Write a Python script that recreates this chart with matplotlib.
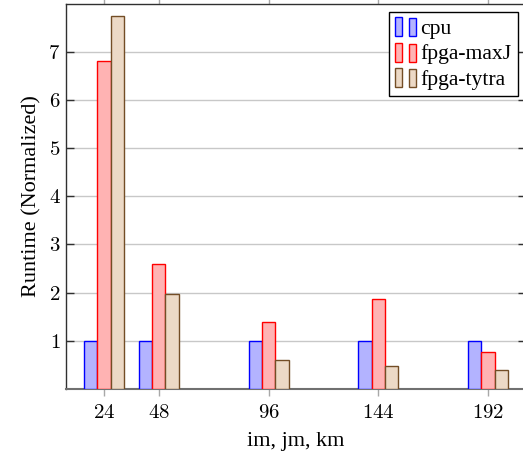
import matplotlib
matplotlib.use("Agg")
import matplotlib.pyplot as plt
from matplotlib.patches import Rectangle
from matplotlib.legend_handler import HandlerBase
from matplotlib.ticker import FuncFormatter
import numpy as np

plt.rcParams['font.family'] = ['Liberation Serif', 'DejaVu Serif']
plt.rcParams['mathtext.fontset'] = 'cm'

sizes = [24, 48, 96, 144, 192]
series_names = ["cpu", "fpga-maxJ", "fpga-tytra"]
cpu = [1.0, 1.0, 1.0, 1.0, 1.0]
fpga_maxj = [6.81, 2.60, 1.40, 1.87, 0.76]
fpga_tytra = [7.74, 1.98, 0.60, 0.47, 0.39]
yticks = [1, 2, 3, 4, 5, 6, 7]
xlabel = "im, jm, km"
ylabel = "Runtime (Normalized)"

faces = ["#b3b3ff", "#ffb3b3", "#ecd9c6"]
edges = ["#0000ff", "#ff0000", "#734d26"]

W, H = 523, 455
fig = plt.figure(figsize=(W/100, H/100), dpi=100)
ax = fig.add_axes([66/W, (H-389)/H, 460/W, 385/H])

bw = 5.83
data = [cpu, fpga_maxj, fpga_tytra]
x = np.array(sizes, dtype=float)
for i, (vals, fc, ec, name) in enumerate(zip(data, faces, edges, series_names)):
    ax.bar(x + (i-1)*bw, vals, width=bw, facecolor=fc, edgecolor=ec,
           linewidth=1.0, label=name, zorder=3)

ax.set_xlim(7.4, 208.6)
ax.set_ylim(0, 7.99)
ax.set_xticks(sizes)
ax.set_yticks(yticks)
fmt = FuncFormatter(lambda v, p: f"${int(round(v))}$")
ax.xaxis.set_major_formatter(fmt)
ax.yaxis.set_major_formatter(fmt)
ax.tick_params(axis='y', direction='in', length=6, width=1.0, color='#303030',
               labelsize=15, right=True, pad=4)
ax.tick_params(axis='x', direction='out', length=5, width=1.0, color='#a8a8a8',
               labelsize=15, top=True, pad=6)
ax.grid(axis='y', color='#c8c8c8', linewidth=1.0, zorder=0)
ax.set_axisbelow(True)
for s in ax.spines.values():
    s.set_color('#303030')
    s.set_linewidth(1.0)
ax.spines['bottom'].set_color('#707070')
ax.spines['bottom'].set_linewidth(1.5)

ax.set_xlabel(xlabel, fontsize=16, labelpad=6)
ax.set_ylabel(ylabel, fontsize=16, labelpad=5)


class TwoBars(HandlerBase):
    def create_artists(self, legend, orig_handle, xdescent, ydescent, width, height, fontsize, trans):
        p = orig_handle.patches[0]
        fc = p.get_facecolor()
        ec = p.get_edgecolor()
        bwid = width * 0.34
        h = height * 1.25
        y0 = -ydescent - height * 0.15
        r1 = Rectangle((-xdescent, y0), bwid, h, facecolor=fc, edgecolor=ec, lw=1.0, transform=trans)
        r2 = Rectangle((-xdescent + width - bwid, y0), bwid, h * 0.95, facecolor=fc, edgecolor=ec, lw=1.0, transform=trans)
        return [r1, r2]

handles, labels = ax.get_legend_handles_labels()
hmap = {h: TwoBars() for h in handles}
leg = ax.legend(handles, labels, handler_map=hmap, loc='upper right',
                bbox_to_anchor=(518/W, 1-12/H), bbox_transform=fig.transFigure,
                borderaxespad=0, fontsize=15.6, fancybox=False, framealpha=1,
                edgecolor='black', handlelength=0.95, handletextpad=0.2,
                labelspacing=0.25, borderpad=0.3)
leg.get_frame().set_linewidth(1.0)

fig.savefig("out.png", dpi=100)
